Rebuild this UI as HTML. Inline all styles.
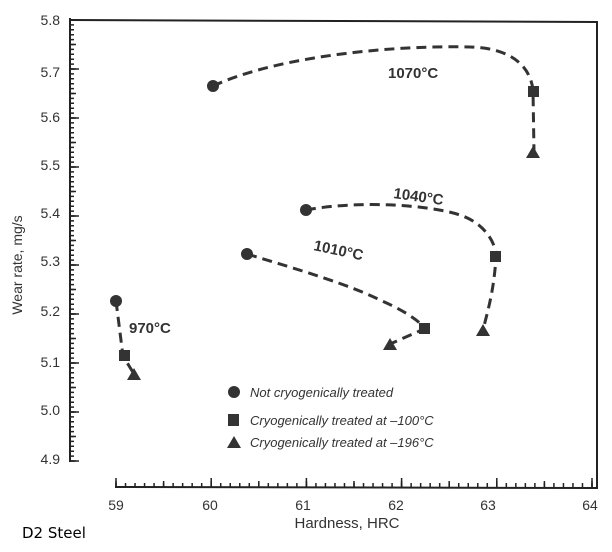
<!DOCTYPE html>
<html><head><style>body{margin:0;background:#fff}svg{display:block}text{font-family:"Liberation Sans",sans-serif;fill:#333}</style></head><body>
<svg width="612" height="552" viewBox="0 0 612 552" xmlns="http://www.w3.org/2000/svg">
<g stroke="#222" stroke-width="2" fill="none">
<polyline points="70,18 70,462"/>
<polyline points="70,20 597,22 597,488 115,487"/>
</g>
<g stroke="#222" fill="none">
<line x1="72" y1="19.25" x2="72" y2="462" stroke-width="4" stroke-dasharray="1.5 3.4"/>
<line x1="73" y1="19.25" x2="73" y2="462" stroke-width="6" stroke-dasharray="1.5 23"/>
<line x1="74.5" y1="19.25" x2="74.5" y2="462" stroke-width="9" stroke-dasharray="1.5 47.5"/>
<line x1="115.25" y1="485" x2="594" y2="485" stroke-width="4" stroke-dasharray="1.5 8.02"/>
<line x1="115.25" y1="484" x2="594" y2="484" stroke-width="6" stroke-dasharray="1.5 46.1"/>
<line x1="115.25" y1="482.5" x2="594" y2="482.5" stroke-width="9" stroke-dasharray="1.5 93.7"/>
</g>
<g font-size="14" text-anchor="end">
<text x="60" y="25">5.8</text><text x="60" y="77">5.7</text><text x="60" y="122">5.6</text><text x="60" y="170">5.5</text><text x="60" y="218">5.4</text><text x="60" y="266">5.3</text><text x="60" y="316">5.2</text><text x="60" y="367">5.1</text><text x="60" y="415">5.0</text><text x="60" y="464">4.9</text>
</g>
<g font-size="14" text-anchor="middle">
<text x="116" y="510">59</text><text x="210" y="510">60</text><text x="303" y="510">61</text><text x="396" y="510">62</text><text x="488" y="510">63</text><text x="590" y="510">64</text>
<text x="347" y="528" font-size="15">Hardness, HRC</text>
</g>
<text transform="translate(22,265) rotate(-90)" font-size="14" text-anchor="middle">Wear rate, mg/s</text>
<text x="22" y="538" font-size="15" style="font-family:'DejaVu Sans',sans-serif;fill:#000">D2 Steel</text>
<g stroke="#333" stroke-width="3" fill="none" stroke-dasharray="10,6">
<path d="M213,86 C280,55 400,45 470,47 C510,48 530,65 533,90 L534,152"/>
<path d="M306,210 C360,200 430,205 460,215 C490,225 497,250 496,257 C494,290 488,310 483,330"/>
<path d="M247,254 C300,270 350,285 380,300 C410,313 424,325 424,329 L390,344"/>
<path d="M116,301 L123,356 L134,374"/>
</g>
<g fill="#333">
<circle cx="213" cy="86" r="6"/><rect x="528" y="86" width="11" height="11"/><polygon points="533,146 540,158 526,158"/>
<circle cx="306" cy="210" r="6"/><rect x="490" y="251" width="11" height="11"/><polygon points="483,324 490,336 476,336"/>
<circle cx="247" cy="254" r="6"/><rect x="419" y="323" width="11" height="11"/><polygon points="390,338 397,350 383,350"/>
<circle cx="116" cy="301" r="6"/><rect x="119" y="350" width="11" height="11"/><polygon points="134,368 141,380 127,380"/>
<circle cx="234" cy="392" r="6"/><rect x="228" y="414" width="11" height="12"/><polygon points="234,436 241,448 227,448"/>
</g>
<g font-weight="bold" font-size="15" fill="#333">
<text x="388" y="78">1070°C</text>
<text x="393" y="198" transform="rotate(8 393 198)">1040°C</text>
<text x="313" y="250" transform="rotate(12 313 250)">1010°C</text>
<text x="129" y="333">970°C</text>
</g>
<g font-size="13" font-style="italic">
<text x="250" y="397">Not cryogenically treated</text>
<text x="250" y="425">Cryogenically treated at –100°C</text>
<text x="250" y="447">Cryogenically treated at –196°C</text>
</g>
</svg>
</body></html>
